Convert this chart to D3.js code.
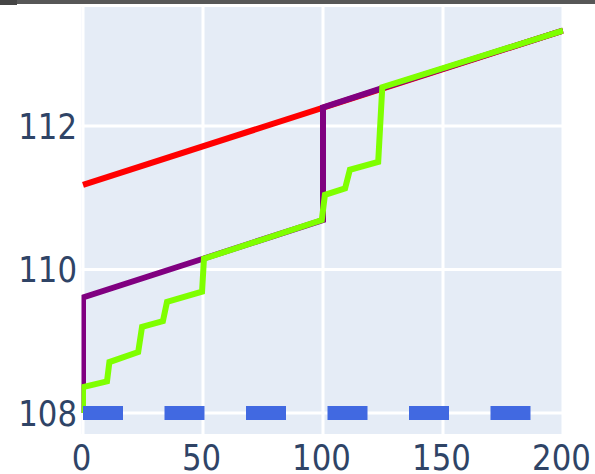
<!DOCTYPE html>
<html>
<head>
<meta charset="utf-8">
<script src="https://cdn.jsdelivr.net/npm/d3@7"></script>
<style>
    body { margin: 0; background: #fff; }
    .tick-label { font-family: "DejaVu Sans", Verdana, sans-serif; font-size: 35px; fill: #2f4466; }
</style>
</head>
<body>
<div id="chart"></div>
<script>

// * Data
var redX = [0, 200];
var redY = [111.18, 113.33];

var purpleX = [0, 0, 50, 100, 100, 125, 200];
var purpleY = [108, 109.61, 110.15, 110.69, 112.26, 112.53, 113.33];

var greenX = [0, 0, 10, 11, 23, 24.6, 33.3, 35, 49.6, 50.4, 99.5, 100.8, 109.2, 111.2, 123, 124.7, 200];
var greenY = [108, 108.36, 108.44, 108.71, 108.85, 109.2, 109.28, 109.55, 109.69, 110.15, 110.69, 111.04, 111.13, 111.39, 111.5, 112.54, 113.33];

var blueX = [0, 200];
var blueY = [108, 108];

var xTicks = [0, 50, 100, 150, 200];
var yTicks = [108, 110, 112];


// * Svg
var width = 595;
var height = 474;

var svg = d3.select("#chart").append("svg")
    .attr("width", width)
    .attr("height", height);

// dark strip on top
svg.append("rect")
    .attr("x", 0).attr("y", 0)
    .attr("width", width).attr("height", 4)
    .attr("fill", "#575757");
svg.append("rect")
    .attr("x", 0).attr("y", 0)
    .attr("width", 17).attr("height", 5)
    .attr("fill", "#454545");


// * Scales
var x = d3.scaleLinear()
    .domain([0, 200])
    .range([83, 563]);

var y = d3.scaleLinear()
    .domain([108, 112])
    .range([413, 126]);

// plot background
var plotLeft = 81.5, plotRight = 563.5, plotTop = 7, plotBottom = 434;

svg.append("rect")
    .attr("x", plotLeft)
    .attr("y", plotTop)
    .attr("width", plotRight - plotLeft)
    .attr("height", plotBottom - plotTop)
    .attr("fill", "#E5ECF6");


// * Grid lines
svg.selectAll(".xgrid")
    .data(xTicks)
    .enter()
    .append("line")
    .attr("class", "xgrid")
    .attr("x1", function(d) { return x(d); })
    .attr("x2", function(d) { return x(d); })
    .attr("y1", plotTop)
    .attr("y2", plotBottom)
    .attr("stroke", "#fff")
    .attr("stroke-width", 3);

svg.selectAll(".ygrid")
    .data(yTicks)
    .enter()
    .append("line")
    .attr("class", "ygrid")
    .attr("x1", plotLeft)
    .attr("x2", plotRight)
    .attr("y1", function(d) { return y(d); })
    .attr("y2", function(d) { return y(d); })
    .attr("stroke", "#fff")
    .attr("stroke-width", 3);


// * Lines
var line = d3.line()
    .x(function(d) { return x(d[0]); })
    .y(function(d) { return y(d[1]); });

function pairs(xs, ys) {
    return xs.map(function(d, i) { return [d, ys[i]]; });
}

svg.append("clipPath").attr("id", "plotClip")
    .append("rect")
    .attr("x", plotLeft).attr("y", plotTop)
    .attr("width", plotRight - plotLeft)
    .attr("height", plotBottom - plotTop);

var lines = svg.append("g").attr("clip-path", "url(#plotClip)");

lines.append("path")
    .attr("d", line(pairs(redX, redY)))
    .attr("fill", "none")
    .attr("stroke", "#ff0000")
    .attr("stroke-width", 6);

lines.append("path")
    .attr("d", line(pairs(purpleX, purpleY)))
    .attr("fill", "none")
    .attr("stroke", "#800080")
    .attr("stroke-width", 6);

lines.append("path")
    .attr("d", line(pairs(greenX, greenY)))
    .attr("fill", "none")
    .attr("stroke", "#7fff00")
    .attr("stroke-width", 6);

lines.append("path")
    .attr("d", line(pairs(blueX, blueY)))
    .attr("fill", "none")
    .attr("stroke", "#4169e1")
    .attr("stroke-width", 14)
    .attr("stroke-dasharray", "40,41.5");


// * Tick labels (squeezed a little sideways, like the picture)
svg.selectAll(".ylabel")
    .data(yTicks)
    .enter()
    .append("text")
    .attr("class", "tick-label")
    .attr("transform", function(d) {
        return "translate(77," + (y(d) + 12.5) + ") scale(0.88,1)";
    })
    .attr("text-anchor", "end")
    .text(function(d) { return d; });

svg.selectAll(".xlabel")
    .data(xTicks)
    .enter()
    .append("text")
    .attr("class", "tick-label")
    .attr("transform", function(d) {
        return "translate(" + (x(d) - 1.5) + ",470) scale(0.88,1)";
    })
    .attr("text-anchor", "middle")
    .text(function(d) { return d; });

</script>
</body>
</html>
